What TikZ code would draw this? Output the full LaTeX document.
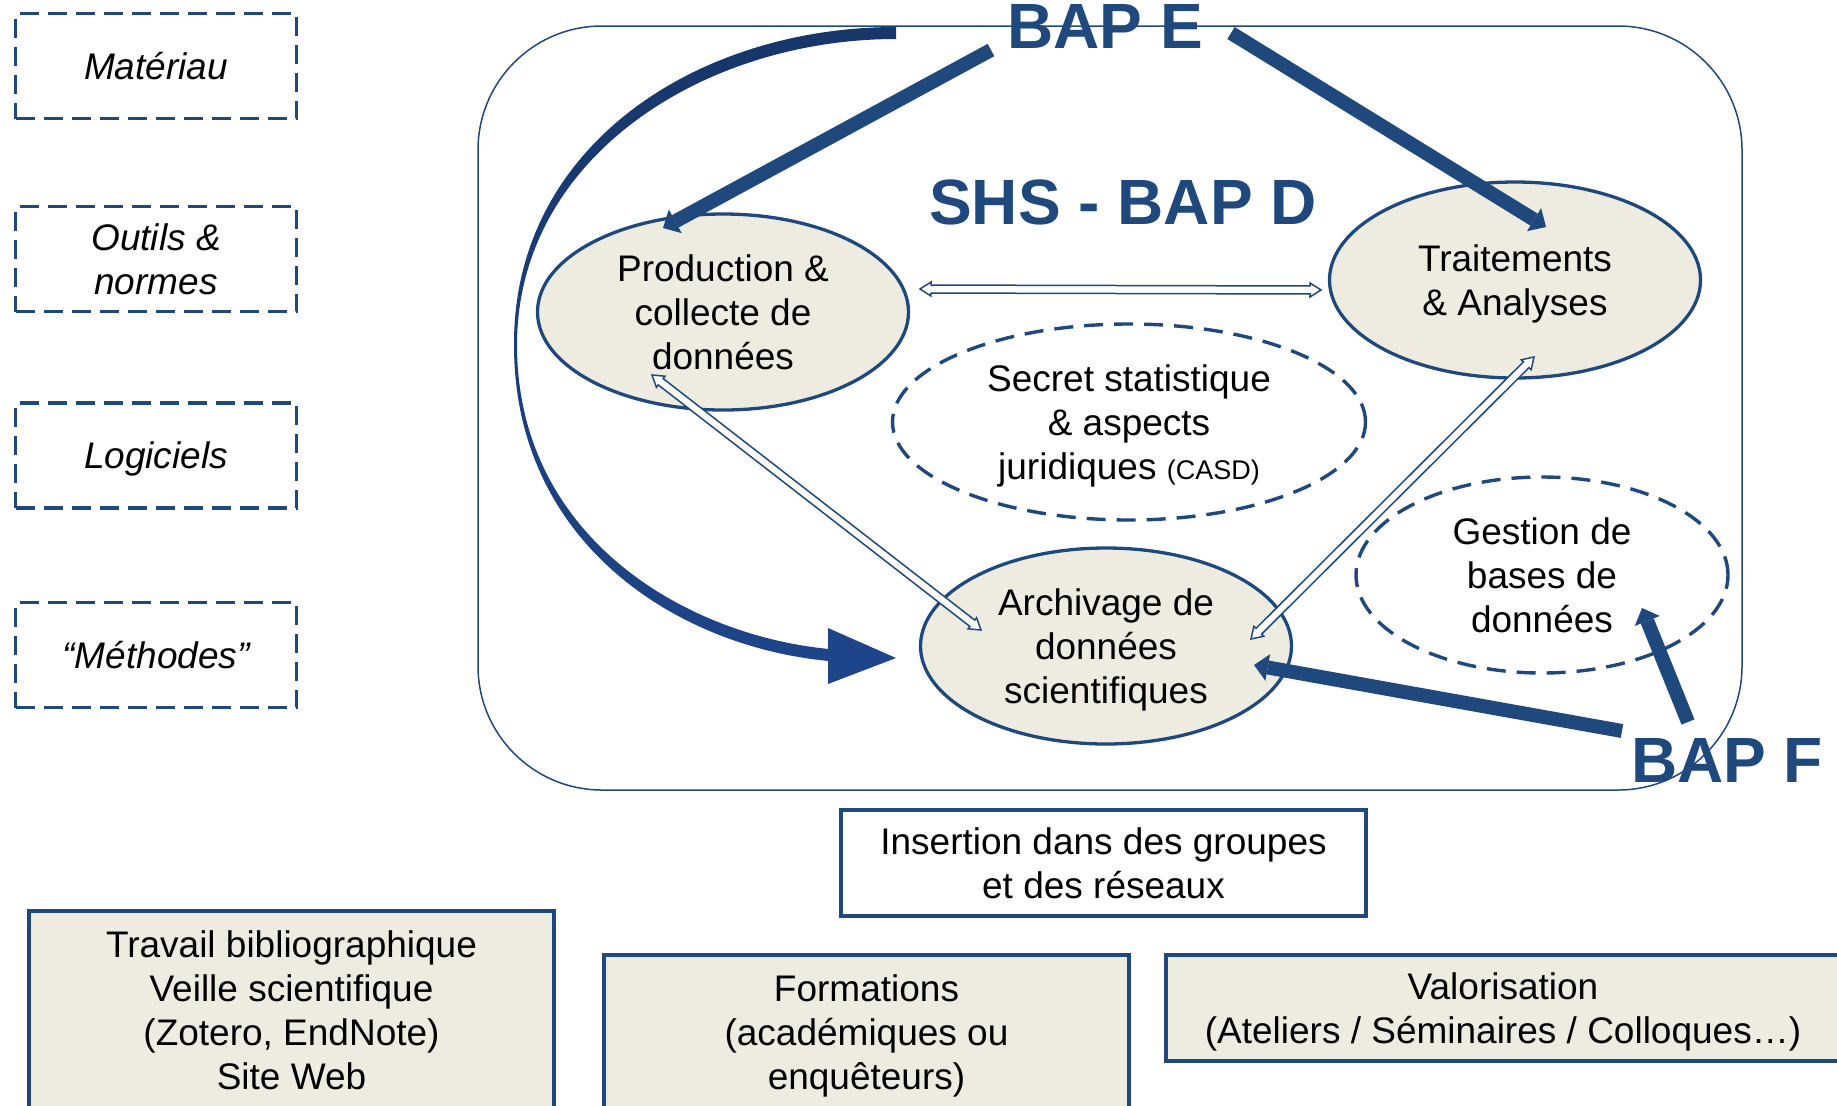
\documentclass[tikz,border=0pt]{standalone}
\usepackage{fontspec}
\setmainfont{Liberation Sans}
\usetikzlibrary{shapes.geometric,arrows.meta,calc}
\definecolor{dblue}{HTML}{1F497D}
\definecolor{cream}{HTML}{EEECE1}
\definecolor{ctop}{HTML}{17366A}
\definecolor{cbot}{HTML}{1E4589}
\newcommand\hollowdbl[2]{%
  \draw[hollow] (#1)
   -- ($(#1)!5.5pt!(#2)!3.5pt!90:(#2)$)
   -- ($(#1)!5.5pt!(#2)!2pt!90:(#2)$)
   -- ($(#2)!5.5pt!(#1)!2pt!-90:(#1)$)
   -- ($(#2)!5.5pt!(#1)!3.5pt!-90:(#1)$)
   -- (#2)
   -- ($(#2)!5.5pt!(#1)!3.5pt!90:(#1)$)
   -- ($(#2)!5.5pt!(#1)!2pt!90:(#1)$)
   -- ($(#1)!5.5pt!(#2)!2pt!-90:(#2)$)
   -- ($(#1)!5.5pt!(#2)!3.5pt!-90:(#2)$)
   -- cycle;}
\begin{document}
\begin{tikzpicture}[x=0.5pt,y=-0.5pt,
  txt/.style={font=\fontsize{18.5pt}{22pt}\selectfont, align=center, text depth=0pt},
  oval/.style={txt, ellipse, draw=dblue, line width=1.65pt, fill=cream, inner sep=0pt, minimum width=185.5pt, minimum height=98pt},
  dashoval/.style={txt, ellipse, draw=dblue, line width=1.7pt, dash pattern=on 9.5pt off 5.5pt, inner sep=0pt, minimum height=98pt},
  sidebox/.style={align=center, font=\fontsize{18.5pt}{22pt}\selectfont\itshape, text depth=0pt, draw=dblue, line width=1.6pt, dash pattern=on 9.5pt off 4.5pt, minimum width=140.5pt, minimum height=52.5pt, inner sep=0pt},
  botbox/.style={txt, draw=dblue, line width=1.6pt, fill=cream, inner sep=0pt},
  bap/.style={font=\fontsize{32pt}{36pt}\selectfont\bfseries, text=dblue, inner sep=0pt},
  bigarrow/.style={draw=dblue, line width=7pt, -{Triangle[length=7pt,width=13.5pt,line width=0pt]}},
  hollow/.style={draw=dblue, line width=0.75pt, fill=white, line join=miter}]
\useasboundingbox (0,0) rectangle (1837,1105);
\clip (0,0) rectangle (1837,1105);

% frame
\node[draw=dblue, line width=0.75pt, rounded corners=62pt, minimum width=632pt, minimum height=382pt, inner sep=0pt] (frame) at (1110,408) {};

% curved arrow
\shade[top color=ctop, bottom color=cbot] (896,27) .. controls (697,27) and (513,146) .. (514,345) .. controls (514,544) and (678,647) .. (829,661) -- (829,649) .. controls (684,635) and (517,536) .. (517,345) .. controls (517,158) and (703,39) .. (896,39) -- cycle;
\fill[cbot] (828,628) -- (896,658) -- (828,684) -- cycle;

% ellipses
\node[oval] (prod) at (723,312) {Production \&\\collecte de\\données};
\node[oval] (trait) at (1515,280) {Traitements\\\& Analyses};
\node[oval] (arch) at (1106,646) {Archivage de\\données\\scientifiques};
\node[dashoval, minimum width=236.5pt, text depth=-1pt] (secret) at (1129,422) {Secret statistique\\\& aspects\\juridiques {\fontsize{13.5pt}{22pt}\selectfont(CASD)}};
\node[dashoval, minimum width=186pt] (gest) at (1542,575) {Gestion de\\bases de\\données};

% side boxes
\node[sidebox] (mat) at (156,66) {Matériau};
\node[sidebox] (outils) at (156,259) {Outils \&\\normes};
\node[sidebox] (logi) at (156,455.5) {Logiciels};
\node[sidebox] (meth) at (156,655) {“Méthodes”};

% bottom boxes
\node[botbox, fill=white, minimum width=262.5pt, minimum height=53pt] (ins) at (1103.5,863) {Insertion dans des groupes\\et des réseaux};
\node[botbox, minimum width=262.5pt, minimum height=99.5pt] (trav) at (291.5,1010.5) {Travail bibliographique\\Veille scientifique\\(Zotero, EndNote)\\Site Web};
\node[botbox, minimum width=262.5pt, minimum height=77pt] (form) at (866.5,1032) {Formations\\(académiques ou\\enquêteurs)};
\node[botbox, minimum width=337pt, minimum height=53pt, text depth=-2.5pt] (valo) at (1503,1008) {Valorisation\\(Ateliers / Séminaires / Colloques…)};

% hollow double arrows
\coordinate (h1) at ($(prod.center)+(197,-23)$);
\coordinate (h2) at ($(trait.center)+(-194,10)$);
\coordinate (pa1) at ($(prod.center)+(-71,63)$);
\coordinate (pa2) at ($(arch.center)+(-125,-16)$);
\coordinate (ta1) at ($(trait.center)+(19,77)$);
\coordinate (ta2) at ($(arch.center)+(145,-7)$);
\hollowdbl{h1}{h2}
\hollowdbl{pa1}{pa2}
\hollowdbl{ta1}{ta2}

% BAP labels
\node[bap, anchor=base] (bape) at (1105,48) {BAP E};
\node[bap, anchor=base] (bapf) at (1727,782) {BAP F};
\node[bap, anchor=base] (shs) at (1123,224) {SHS - BAP D};

% thick arrows
\draw[bigarrow] ($(bape.base)+(-114,2)$) -- ($(prod.center)+(-60,-84)$);
\draw[bigarrow] ($(bape.base)+(126,-15)$) -- ($(trait.center)+(31,-53)$);
\draw[bigarrow] ($(bapf.base)+(-105,-51)$) -- ($(arch.center)+(148,19)$);
\draw[bigarrow] ($(bapf.base)+(-39,-60)$) -- ($(gest.center)+(100,33)$);
\end{tikzpicture}
\end{document}
